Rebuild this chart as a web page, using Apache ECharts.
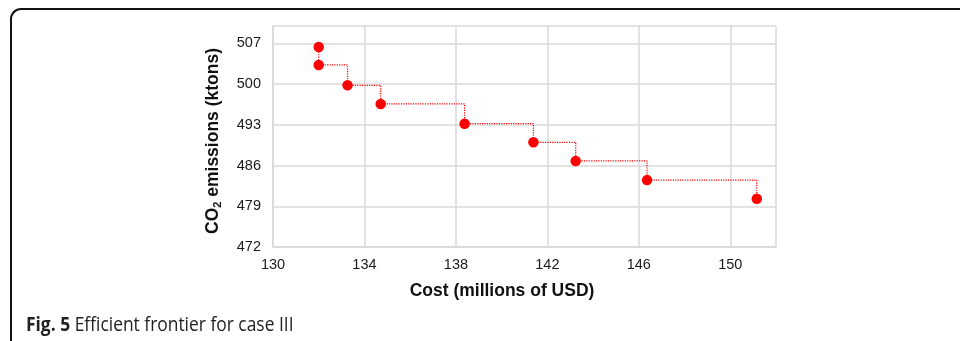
<!DOCTYPE html>
<html>
<head>
<meta charset="utf-8">
<script src="https://cdn.jsdelivr.net/npm/echarts@6/dist/echarts.min.js"></script>
<style>
  html, body { margin: 0; padding: 0; background: #fff; }
  #wrap { position: relative; width: 960px; height: 341px; overflow: hidden; }
  #frame {
    position: absolute; left: 10px; top: 8px; width: 980px; height: 360px;
    border-top: 2px solid #111; border-left: 2px solid #111;
    border-top-left-radius: 11px; box-sizing: border-box;
  }
  #chart { position: absolute; left: 0; top: 0; width: 960px; height: 341px; }
  #caption {
    position: absolute; left: 26px; top: 310px; white-space: nowrap;
    font-family: "Open Sans", "Noto Sans", sans-serif; font-size: 20px; color: #222;
    transform-origin: 0 0; transform: scaleX(0.87);
  }
  #caption b { font-weight: 700; }
</style>
</head>
<body>
<div id="wrap">
  <div id="frame"></div>
  <div id="chart"></div>
  <div id="caption"><b>Fig. 5</b> Efficient frontier for case III</div>
</div>
<script>
// Efficient frontier: cost vs. CO2 emissions for each solution
const costMillionUSD = [132.0, 132.0, 133.26, 134.71, 138.38, 141.39, 143.24, 146.36, 151.16];
const co2Ktons = [506.4, 503.3, 499.8, 496.6, 493.2, 490.0, 486.8, 483.5, 480.3];

const xTicks = { min: 130, max: 152, interval: 4 };
const yTicks = { min: 472, max: 510, interval: 7 };

const chart = echarts.init(document.getElementById('chart'), null, { renderer: 'canvas' });

const gridColor = '#d9d9d9';
const labelFont = { fontFamily: 'Liberation Sans, Arial, sans-serif', fontSize: 14.5, color: '#1a1a1a' };

chart.setOption({
  animation: false,
  grid: { left: 273, top: 26, right: 184, bottom: 94, containLabel: false },
  xAxis: {
    type: 'value',
    min: xTicks.min, max: xTicks.max, interval: xTicks.interval,
    axisLine: { show: true, lineStyle: { color: gridColor, width: 1.5 } },
    axisTick: { show: false },
    splitLine: { show: true, lineStyle: { color: gridColor, width: 1.5 } },
    axisLabel: Object.assign({ margin: 10, showMaxLabel: false }, labelFont)
  },
  yAxis: {
    type: 'value',
    min: yTicks.min, max: yTicks.max, interval: yTicks.interval,
    axisLine: { show: true, lineStyle: { color: gridColor, width: 1.5 } },
    axisTick: { show: false },
    splitLine: { show: true, lineStyle: { color: gridColor, width: 1.5 } },
    axisLabel: Object.assign({ margin: 12, showMaxLabel: false }, labelFont),
    name: '{a|CO}{s|2}{a| emissions (ktons)}',
    nameLocation: 'middle',
    nameRotate: 90,
    nameGap: 50,
    nameTextStyle: {
      padding: [0, 9, 0, 0],
      rich: {
        a: { fontFamily: 'Liberation Sans, Arial, sans-serif', fontWeight: 'bold', fontSize: 17.5, color: '#111' },
        s: { fontFamily: 'Liberation Sans, Arial, sans-serif', fontWeight: 'bold', fontSize: 11, color: '#111', padding: [8, 0, 0, 0] }
      }
    }
  },
  graphic: [{
    type: 'text',
    x: 502, y: 291,
    style: {
      text: 'Cost (millions of USD)',
      fontFamily: 'Liberation Sans, Arial, sans-serif',
      fontWeight: 'bold', fontSize: 17.5, fill: '#111',
      align: 'center', verticalAlign: 'middle'
    }
  }],
  series: [{
    type: 'line',
    data: costMillionUSD.map((c, i) => [c, co2Ktons[i]]),
    step: 'end',
    symbol: 'circle',
    symbolSize: 10.5,
    itemStyle: { color: '#ff0000' },
    lineStyle: { color: '#ff0000', width: 1.2, type: 'dotted' },
    z: 3
  }]
});
</script>
</body>
</html>
